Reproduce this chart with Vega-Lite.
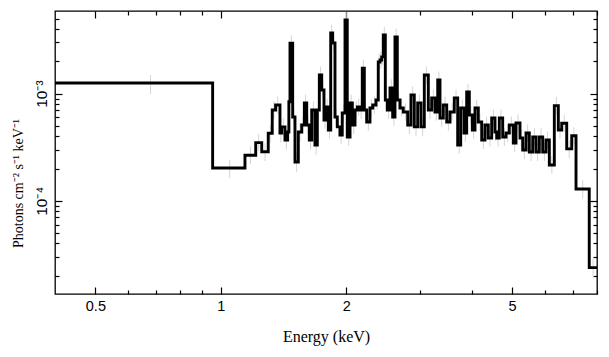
{
  "$schema": "https://vega.github.io/schema/vega-lite/v6.json",
  "width": 542,
  "height": 283,
  "autosize": "none",
  "padding": {"left": 55, "top": 11, "right": 12, "bottom": 63},
  "background": "white",
  "config": {
    "view": {"stroke": "black", "strokeWidth": 1.3},
    "axis": {"domain": false, "grid": false, "tickColor": "black", "tickWidth": 1.2, "labelColor": "black", "titleColor": "black", "labelOverlap": false, "labelFlush": false}
  },
  "data": {
    "values": [
      {"e": 0.4, "c": 0.678, "f": 1.257e-3, "lo": 9.9e-4, "hi": 1.49e-3},
      {"e": 0.956, "c": 1.05, "f": 2.02e-4, "lo": 1.63e-4, "hi": 2.4e-4},
      {"e": 1.143, "c": 1.178, "f": 2.66e-4, "lo": 2.2e-4, "hi": 3.2e-4},
      {"e": 1.213, "c": 1.233, "f": 3.49e-4, "lo": 2.9e-4, "hi": 4.2e-4},
      {"e": 1.254, "c": 1.277, "f": 2.87e-4, "lo": 2.35e-4, "hi": 3.45e-4},
      {"e": 1.3, "c": 1.315, "f": 4.27e-4, "lo": 3.5e-4, "hi": 5.1e-4},
      {"e": 1.329, "c": 1.342, "f": 7.04e-4, "lo": 5.8e-4, "hi": 8.5e-4},
      {"e": 1.354, "c": 1.37, "f": 7.83e-4, "lo": 6.5e-4, "hi": 9.4e-4},
      {"e": 1.387, "c": 1.394, "f": 4.29e-4, "lo": 3.5e-4, "hi": 5.2e-4},
      {"e": 1.4, "c": 1.413, "f": 4.89e-4, "lo": 4.0e-4, "hi": 5.9e-4},
      {"e": 1.426, "c": 1.437, "f": 3.69e-4, "lo": 3.0e-4, "hi": 4.4e-4},
      {"e": 1.447, "c": 1.452, "f": 4.39e-4, "lo": 3.6e-4, "hi": 5.3e-4},
      {"e": 1.457, "c": 1.462, "f": 8.4e-4, "lo": 6.9e-4, "hi": 1.01e-3},
      {"e": 1.466, "c": 1.477, "f": 2.95e-3, "lo": 2.45e-3, "hi": 3.5e-3},
      {"e": 1.488, "c": 1.498, "f": 6.05e-4, "lo": 5.0e-4, "hi": 7.3e-4},
      {"e": 1.507, "c": 1.521, "f": 2.3e-4, "lo": 1.85e-4, "hi": 2.8e-4},
      {"e": 1.535, "c": 1.55, "f": 4.39e-4, "lo": 3.6e-4, "hi": 5.3e-4},
      {"e": 1.564, "c": 1.576, "f": 5.1e-4, "lo": 4.2e-4, "hi": 6.1e-4},
      {"e": 1.587, "c": 1.598, "f": 8.18e-4, "lo": 6.8e-4, "hi": 9.8e-4},
      {"e": 1.608, "c": 1.62, "f": 5.1e-4, "lo": 4.2e-4, "hi": 6.1e-4},
      {"e": 1.631, "c": 1.642, "f": 3.69e-4, "lo": 3.0e-4, "hi": 4.4e-4},
      {"e": 1.653, "c": 1.668, "f": 7.04e-4, "lo": 5.8e-4, "hi": 8.5e-4},
      {"e": 1.683, "c": 1.694, "f": 3.32e-4, "lo": 2.7e-4, "hi": 4.0e-4},
      {"e": 1.705, "c": 1.715, "f": 7.04e-4, "lo": 5.8e-4, "hi": 8.5e-4},
      {"e": 1.724, "c": 1.736, "f": 1.49e-3, "lo": 1.24e-3, "hi": 1.79e-3},
      {"e": 1.747, "c": 1.758, "f": 1.08e-3, "lo": 9.0e-4, "hi": 1.3e-3},
      {"e": 1.769, "c": 1.779, "f": 5.68e-4, "lo": 4.7e-4, "hi": 6.8e-4},
      {"e": 1.789, "c": 1.8, "f": 7.5e-4, "lo": 6.2e-4, "hi": 9.0e-4},
      {"e": 1.812, "c": 1.824, "f": 4.58e-4, "lo": 3.8e-4, "hi": 5.5e-4},
      {"e": 1.836, "c": 1.846, "f": 3.68e-3, "lo": 3.1e-3, "hi": 4.4e-3},
      {"e": 1.856, "c": 1.868, "f": 2.97e-3, "lo": 2.5e-3, "hi": 3.55e-3},
      {"e": 1.88, "c": 1.892, "f": 6.05e-4, "lo": 5.0e-4, "hi": 7.3e-4},
      {"e": 1.904, "c": 1.918, "f": 4.89e-4, "lo": 4.0e-4, "hi": 5.9e-4},
      {"e": 1.933, "c": 1.945, "f": 4.11e-4, "lo": 3.4e-4, "hi": 4.9e-4},
      {"e": 1.957, "c": 1.972, "f": 6.6e-4, "lo": 5.5e-4, "hi": 7.9e-4},
      {"e": 1.987, "c": 2.0, "f": 4.86e-3, "lo": 4.1e-3, "hi": 5.8e-3},
      {"e": 2.012, "c": 2.028, "f": 3.94e-4, "lo": 3.25e-4, "hi": 4.75e-4},
      {"e": 2.043, "c": 2.056, "f": 8.18e-4, "lo": 6.8e-4, "hi": 9.8e-4},
      {"e": 2.069, "c": 2.085, "f": 5.1e-4, "lo": 4.2e-4, "hi": 6.1e-4},
      {"e": 2.1, "c": 2.114, "f": 7.04e-4, "lo": 5.8e-4, "hi": 8.5e-4},
      {"e": 2.127, "c": 2.143, "f": 7.5e-4, "lo": 6.2e-4, "hi": 9.0e-4},
      {"e": 2.159, "c": 2.173, "f": 7.04e-4, "lo": 5.8e-4, "hi": 8.5e-4},
      {"e": 2.186, "c": 2.199, "f": 1.73e-3, "lo": 1.44e-3, "hi": 2.08e-3},
      {"e": 2.211, "c": 2.226, "f": 7.04e-4, "lo": 5.8e-4, "hi": 8.5e-4},
      {"e": 2.24, "c": 2.26, "f": 5.44e-4, "lo": 4.5e-4, "hi": 6.5e-4},
      {"e": 2.281, "c": 2.298, "f": 7.35e-4, "lo": 6.1e-4, "hi": 8.8e-4},
      {"e": 2.316, "c": 2.337, "f": 7.83e-4, "lo": 6.5e-4, "hi": 9.4e-4},
      {"e": 2.358, "c": 2.373, "f": 8.72e-4, "lo": 7.2e-4, "hi": 1.05e-3},
      {"e": 2.388, "c": 2.4, "f": 1.97e-3, "lo": 1.64e-3, "hi": 2.37e-3},
      {"e": 2.411, "c": 2.423, "f": 2.06e-3, "lo": 1.71e-3, "hi": 2.47e-3},
      {"e": 2.434, "c": 2.445, "f": 2.2e-3, "lo": 1.83e-3, "hi": 2.64e-3},
      {"e": 2.455, "c": 2.469, "f": 3.52e-3, "lo": 2.95e-3, "hi": 4.2e-3},
      {"e": 2.483, "c": 2.497, "f": 8.72e-4, "lo": 7.2e-4, "hi": 1.05e-3},
      {"e": 2.51, "c": 2.529, "f": 7.04e-4, "lo": 5.8e-4, "hi": 8.5e-4},
      {"e": 2.548, "c": 2.567, "f": 1.13e-3, "lo": 9.4e-4, "hi": 1.36e-3},
      {"e": 2.586, "c": 2.603, "f": 6.05e-4, "lo": 5.0e-4, "hi": 7.3e-4},
      {"e": 2.619, "c": 2.636, "f": 3.38e-3, "lo": 2.8e-3, "hi": 4.05e-3},
      {"e": 2.653, "c": 2.673, "f": 8.72e-4, "lo": 7.2e-4, "hi": 1.05e-3},
      {"e": 2.693, "c": 2.718, "f": 7.35e-4, "lo": 6.1e-4, "hi": 8.8e-4},
      {"e": 2.742, "c": 2.776, "f": 6.74e-4, "lo": 5.6e-4, "hi": 8.1e-4},
      {"e": 2.81, "c": 2.836, "f": 5.1e-4, "lo": 4.2e-4, "hi": 6.1e-4},
      {"e": 2.861, "c": 2.888, "f": 9.71e-4, "lo": 8.1e-4, "hi": 1.17e-3},
      {"e": 2.914, "c": 2.942, "f": 4.89e-4, "lo": 4.0e-4, "hi": 5.9e-4},
      {"e": 2.969, "c": 2.997, "f": 8.18e-4, "lo": 6.8e-4, "hi": 9.8e-4},
      {"e": 3.024, "c": 3.052, "f": 4.89e-4, "lo": 4.0e-4, "hi": 5.9e-4},
      {"e": 3.08, "c": 3.115, "f": 1.49e-3, "lo": 1.24e-3, "hi": 1.79e-3},
      {"e": 3.149, "c": 3.179, "f": 7.04e-4, "lo": 5.8e-4, "hi": 8.5e-4},
      {"e": 3.208, "c": 3.238, "f": 9.1e-4, "lo": 7.6e-4, "hi": 1.09e-3},
      {"e": 3.267, "c": 3.292, "f": 6.74e-4, "lo": 5.6e-4, "hi": 8.1e-4},
      {"e": 3.317, "c": 3.338, "f": 1.34e-3, "lo": 1.11e-3, "hi": 1.61e-3},
      {"e": 3.359, "c": 3.39, "f": 5.93e-4, "lo": 4.9e-4, "hi": 7.1e-4},
      {"e": 3.421, "c": 3.454, "f": 7.83e-4, "lo": 6.5e-4, "hi": 9.4e-4},
      {"e": 3.486, "c": 3.518, "f": 5.44e-4, "lo": 4.5e-4, "hi": 6.5e-4},
      {"e": 3.55, "c": 3.593, "f": 6.74e-4, "lo": 5.6e-4, "hi": 8.1e-4},
      {"e": 3.635, "c": 3.67, "f": 9.1e-4, "lo": 7.6e-4, "hi": 1.09e-3},
      {"e": 3.704, "c": 3.735, "f": 3.32e-4, "lo": 2.75e-4, "hi": 4.0e-4},
      {"e": 3.766, "c": 3.801, "f": 7.35e-4, "lo": 6.1e-4, "hi": 8.8e-4},
      {"e": 3.836, "c": 3.865, "f": 4.29e-4, "lo": 3.55e-4, "hi": 5.15e-4},
      {"e": 3.893, "c": 3.922, "f": 1.035e-3, "lo": 8.6e-4, "hi": 1.24e-3},
      {"e": 3.95, "c": 3.983, "f": 6.32e-4, "lo": 5.25e-4, "hi": 7.6e-4},
      {"e": 4.016, "c": 4.046, "f": 4.58e-4, "lo": 3.8e-4, "hi": 5.5e-4},
      {"e": 4.076, "c": 4.114, "f": 7.35e-4, "lo": 6.1e-4, "hi": 8.8e-4},
      {"e": 4.151, "c": 4.19, "f": 5.44e-4, "lo": 4.5e-4, "hi": 6.5e-4},
      {"e": 4.23, "c": 4.269, "f": 3.69e-4, "lo": 3.05e-4, "hi": 4.45e-4},
      {"e": 4.308, "c": 4.348, "f": 5.1e-4, "lo": 4.2e-4, "hi": 6.1e-4},
      {"e": 4.387, "c": 4.428, "f": 3.86e-4, "lo": 3.2e-4, "hi": 4.6e-4},
      {"e": 4.47, "c": 4.511, "f": 5.93e-4, "lo": 4.9e-4, "hi": 7.1e-4},
      {"e": 4.552, "c": 4.574, "f": 4.39e-4, "lo": 3.6e-4, "hi": 5.3e-4},
      {"e": 4.596, "c": 4.629, "f": 3.86e-4, "lo": 3.2e-4, "hi": 4.6e-4},
      {"e": 4.662, "c": 4.706, "f": 5.93e-4, "lo": 4.9e-4, "hi": 7.1e-4},
      {"e": 4.75, "c": 4.794, "f": 3.94e-4, "lo": 3.25e-4, "hi": 4.75e-4},
      {"e": 4.838, "c": 4.882, "f": 4.29e-4, "lo": 3.55e-4, "hi": 5.15e-4},
      {"e": 4.927, "c": 4.982, "f": 5.1e-4, "lo": 4.2e-4, "hi": 6.1e-4},
      {"e": 5.037, "c": 5.075, "f": 3.46e-4, "lo": 2.85e-4, "hi": 4.15e-4},
      {"e": 5.113, "c": 5.17, "f": 5.32e-4, "lo": 4.4e-4, "hi": 6.4e-4},
      {"e": 5.227, "c": 5.266, "f": 3.86e-4, "lo": 3.2e-4, "hi": 4.6e-4},
      {"e": 5.306, "c": 5.355, "f": 2.98e-4, "lo": 2.45e-4, "hi": 3.6e-4},
      {"e": 5.404, "c": 5.453, "f": 4.29e-4, "lo": 3.55e-4, "hi": 5.15e-4},
      {"e": 5.503, "c": 5.555, "f": 2.85e-4, "lo": 2.35e-4, "hi": 3.45e-4},
      {"e": 5.608, "c": 5.66, "f": 3.94e-4, "lo": 3.25e-4, "hi": 4.75e-4},
      {"e": 5.711, "c": 5.763, "f": 2.85e-4, "lo": 2.35e-4, "hi": 3.45e-4},
      {"e": 5.816, "c": 5.871, "f": 3.94e-4, "lo": 3.25e-4, "hi": 4.75e-4},
      {"e": 5.926, "c": 5.981, "f": 2.85e-4, "lo": 2.35e-4, "hi": 3.45e-4},
      {"e": 6.036, "c": 6.09, "f": 3.69e-4, "lo": 3.05e-4, "hi": 4.45e-4},
      {"e": 6.147, "c": 6.233, "f": 2.16e-4, "lo": 1.78e-4, "hi": 2.6e-4},
      {"e": 6.319, "c": 6.39, "f": 7.72e-4, "lo": 6.4e-4, "hi": 9.3e-4},
      {"e": 6.46, "c": 6.52, "f": 4.58e-4, "lo": 3.8e-4, "hi": 5.5e-4},
      {"e": 6.583, "c": 6.675, "f": 5.29e-4, "lo": 4.4e-4, "hi": 6.35e-4},
      {"e": 6.767, "c": 6.862, "f": 3.05e-4, "lo": 2.5e-4, "hi": 3.65e-4},
      {"e": 6.957, "c": 7.04, "f": 4.05e-4, "lo": 3.35e-4, "hi": 4.85e-4},
      {"e": 7.124, "c": 7.394, "f": 1.29e-4, "lo": 1.05e-4, "hi": 1.55e-4},
      {"e": 7.664, "c": 7.83, "f": 2.38e-5, "lo": 1.9e-5, "hi": 2.9e-5},
      {"e": 8.0, "c": null, "f": 2.38e-5, "lo": null, "hi": null}
    ]
  },
  "layer": [
    {
      "mark": {"type": "rule", "color": "#d4d4d4", "strokeWidth": 1, "clip": true},
      "encoding": {
        "x": {
          "field": "c", "type": "quantitative",
          "scale": {"type": "log", "domain": [0.4, 8], "nice": false, "zero": false},
          "axis": {
            "orient": "bottom",
            "values": [0.5, 0.6, 0.7, 0.8, 0.9, 1, 2, 3, 4, 5, 6, 7, 8],
            "labelExpr": "datum.value == 0.5 ? '0.5' : datum.value == 1 ? '1' : datum.value == 2 ? '2' : datum.value == 5 ? '5' : ''",
            "tickSize": {"condition": {"test": "datum.value == 0.5 || datum.value == 1 || datum.value == 2 || datum.value == 5", "value": -7}, "value": -4},
            "labelPadding": 12,
            "labelFont": "Liberation Sans",
            "labelFontSize": 14.5,
            "title": "Energy (keV)",
            "titleFont": "Liberation Serif",
            "titleFontSize": 16,
            "titleFontWeight": "normal",
            "titlePadding": 13
          }
        },
        "y": {
          "field": "lo", "type": "quantitative",
          "scale": {"type": "log", "domain": [1.35e-5, 5.9e-3], "nice": false, "zero": false},
          "axis": {
            "orient": "left",
            "values": [2e-5, 3e-5, 4e-5, 5e-5, 6e-5, 7e-5, 8e-5, 9e-5, 1e-4, 2e-4, 3e-4, 4e-4, 5e-4, 6e-4, 7e-4, 8e-4, 9e-4, 1e-3, 2e-3, 3e-3, 4e-3, 5e-3],
            "labelExpr": "datum.value == 0.001 ? '10⁻³' : datum.value == 0.0001 ? '10⁻⁴' : ''",
            "tickSize": {"condition": {"test": "datum.value == 0.001 || datum.value == 0.0001", "value": -7}, "value": -4},
            "labelAngle": -90,
            "labelAlign": "center",
            "labelBaseline": "bottom",
            "labelPadding": 13,
            "labelFont": "Liberation Sans",
            "labelFontSize": 15.5,
            "title": "Photons cm⁻² s⁻¹ keV⁻¹",
            "titleFont": "Liberation Serif",
            "titleFontSize": 14,
            "titleFontWeight": "normal",
            "titleAngle": -90,
            "titleAlign": "center",
            "titleBaseline": "middle",
            "titleX": -37,
            "titleY": 172
          }
        },
        "y2": {"field": "hi"}
      }
    },
    {
      "mark": {"type": "line", "interpolate": "step-after", "color": "black", "strokeWidth": 2.9, "clip": true},
      "encoding": {
        "x": {
          "field": "e", "type": "quantitative",
          "scale": {"type": "log", "domain": [0.4, 8], "nice": false, "zero": false},
          "axis": {
            "orient": "top",
            "values": [0.5, 0.6, 0.7, 0.8, 0.9, 1, 2, 3, 4, 5, 6, 7, 8],
            "labels": false,
            "title": null,
            "tickSize": {"condition": {"test": "datum.value == 0.5 || datum.value == 1 || datum.value == 2 || datum.value == 5", "value": -7}, "value": -4}
          }
        },
        "y": {
          "field": "f", "type": "quantitative",
          "scale": {"type": "log", "domain": [1.35e-5, 5.9e-3], "nice": false, "zero": false},
          "axis": {
            "orient": "right",
            "values": [2e-5, 3e-5, 4e-5, 5e-5, 6e-5, 7e-5, 8e-5, 9e-5, 1e-4, 2e-4, 3e-4, 4e-4, 5e-4, 6e-4, 7e-4, 8e-4, 9e-4, 1e-3, 2e-3, 3e-3, 4e-3, 5e-3],
            "labels": false,
            "title": null,
            "tickSize": {"condition": {"test": "datum.value == 0.001 || datum.value == 0.0001", "value": -7}, "value": -4}
          }
        }
      }
    }
  ],
  "resolve": {"axis": {"x": "independent", "y": "independent"}}
}
